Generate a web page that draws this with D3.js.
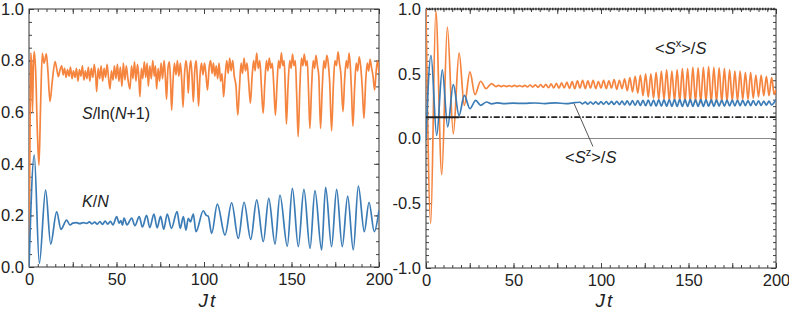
<!DOCTYPE html>
<html>
<head>
<meta charset="utf-8">
<script src="https://cdn.jsdelivr.net/npm/d3@7"></script>
<style>
body{margin:0;background:#fff}
svg text{font-family:"Liberation Sans",Arial,sans-serif;fill:#222}
</style>
</head>
<body>
<svg id="chart" width="789" height="311"></svg>
<script>
// values: [Jt, value]
var entropy=[[0,0],[0.5,0.45],[1.0,0.83],[1.5,0.78],[2.0,0.6],[2.5,0.78],[3.0,0.835],[3.8,0.76],[4.8,0.52],[5.7,0.395],[6.6,0.62],[7.6,0.828],[8.6,0.79],[9.9,0.826],[10.8,0.76],[12.0,0.641],[13.3,0.72],[14.9,0.796],[15.8,0.77],[16.8,0.738],[17.6,0.76],[18.7,0.78],[19.5,0.745],[20.3,0.77],
[21.2,0.735],[22.0,0.765],[22.9,0.74],[23.7,0.775],[24.6,0.73],[25.4,0.76],[26.3,0.735],[27.1,0.77],[28.0,0.72],[28.8,0.765],[29.7,0.74],[30.5,0.78],[31.4,0.725],[32.2,0.76],[33.1,0.73],[33.9,0.775],[34.8,0.72],[35.6,0.77],[36.5,0.735],[37.3,0.785],[38.2,0.73],[38.7,0.68],[39.5,0.77],[40.4,0.73],[41.2,0.78],[42.1,0.72],[42.9,0.77],[43.8,0.735],[44.6,0.785],[45.5,0.73],[46.3,0.69],[47.1,0.76],[48.0,0.725],[48.8,0.78],[49.7,0.73],
[50.5,0.785],[51.4,0.72],[52.2,0.775],[53.1,0.7],[53.9,0.79],[54.8,0.725],[55.6,0.78],[56.5,0.73],[57.7,0.69],[58.6,0.78],[59.4,0.73],[60.3,0.795],[61.1,0.72],[62.0,0.785],[62.7,0.74],[63.4,0.66],[64.2,0.77],[65.0,0.73],[65.9,0.795],[66.7,0.735],[67.5,0.79],[68.2,0.7],[69.0,0.78],[69.9,0.73],[70.7,0.8],[71.6,0.74],[72.3,0.78],[72.9,0.69],[73.8,0.77],[74.6,0.72],[75.5,0.79],[76.3,0.73],[77.2,0.8],[77.9,0.74],[78.6,0.65],[79.4,0.77],
[80.2,0.795],[80.9,0.72],[81.5,0.608],[82.3,0.72],[83.1,0.79],[84.0,0.745],[84.8,0.8],[85.6,0.74],[86.5,0.79],[87.3,0.72],[88.0,0.62],[88.8,0.74],[89.7,0.8],[90.5,0.75],[91.0,0.673],[91.7,0.76],[92.5,0.8],[93.3,0.72],[93.9,0.64],[94.7,0.76],[95.5,0.8],[96.1,0.74],[96.9,0.624],[97.7,0.74],[98.6,0.79],[99.4,0.745],
[100.3,0.79],[101.2,0.74],[102.0,0.686],[102.9,0.77],[103.8,0.8],[104.6,0.75],[105.4,0.79],[106.2,0.74],[107.0,0.78],[107.8,0.73],[108.6,0.79],[109.5,0.72],[110.3,0.75],[111.2,0.66],[112.1,0.74],[113.0,0.8],[113.8,0.75],[114.7,0.81],[115.5,0.76],[116.4,0.8],[117.3,0.74],[118.3,0.7],[119.3,0.589],[120.3,0.7],[121.2,0.79],[122.0,0.75],[122.9,0.81],[123.7,0.76],[124.6,0.79],[125.5,0.72],[126.5,0.635],[127.5,0.74],[128.4,0.8],[129.2,0.76],
[130.1,0.829],[131.0,0.77],[131.9,0.8],[132.8,0.7],[133.8,0.596],[134.8,0.72],[135.7,0.8],[136.5,0.76],[137.3,0.81],[138.2,0.77],[139.0,0.79],[139.9,0.7],[140.8,0.589],[141.8,0.72],[142.6,0.8],[143.4,0.77],[144.2,0.83],[145.0,0.78],[145.8,0.8],[146.4,0.7],[147.1,0.554],[148.0,0.7],[149.0,0.8],[149.8,0.77],
[150.6,0.825],[151.4,0.78],[152.2,0.8],[153.0,0.66],[153.8,0.505],[154.8,0.7],[155.7,0.81],[156.5,0.78],[157.3,0.825],[158.2,0.78],[159.0,0.8],[159.8,0.67],[160.5,0.537],[161.5,0.7],[162.4,0.8],[163.2,0.77],[164.0,0.82],[164.8,0.78],[165.6,0.74],[166.6,0.537],[167.6,0.7],[168.5,0.8],[169.3,0.77],[170.2,0.82],[171.0,0.79],[171.8,0.72],[172.9,0.528],[173.9,0.7],[174.8,0.8],[175.7,0.78],[176.6,0.834],[177.4,0.79],[178.2,0.75],[179.4,0.602],
[180.4,0.73],[181.3,0.8],[182.1,0.77],[182.9,0.829],[183.6,0.78],[184.3,0.68],[185.1,0.546],[186.1,0.7],[187.0,0.79],[187.8,0.76],[188.7,0.815],[189.5,0.78],[190.4,0.7],[191.4,0.576],[192.4,0.72],[193.3,0.79],[194.1,0.76],[194.9,0.805],[195.8,0.77],[196.6,0.74],[197.5,0.686],[198.4,0.76],[199.2,0.8],[200,0.75]];

var kinetic=[[0,0],[3.0,0.434],[5.9,0.014],[9.5,0.298],[12.4,0.089],[15.8,0.214],[18.3,0.146],[21.5,0.182],[23.4,0.163],[25,0.17],[27,0.172],[29,0.168],[31,0.172],[33,0.169],[34.5,0.175],[36,0.167],[37.5,0.174],[39,0.166],[40.5,0.176],[42,0.165],[43.5,0.178],[45,0.166],[46.5,0.177],[48,0.163],
[50.1,0.195],[51.5,0.17],[52.5,0.18],[53.4,0.162],[54.3,0.19],[56,0.163],[58.7,0.19],[60.5,0.16],[63,0.195],[64.8,0.155],[67.2,0.2],[69,0.153],[71.4,0.205],[73.2,0.152],[75.2,0.196],[77,0.146],[79,0.205],[81.4,0.15],[84.6,0.215],[86.4,0.15],[88.2,0.195],[89.7,0.143],[91,0.189],[92.2,0.175],[93.9,0.205],[95.4,0.137],[99.6,0.218],[101.3,0.2],[102.4,0.197],[104.4,0.13],
[107.6,0.244],[112,0.124],[115.8,0.249],[119.6,0.111],[122.9,0.251],[126.7,0.107],[130.1,0.26],[133.9,0.098],[137,0.266],[140.6,0.089],[143.4,0.279],[147.6,0.081],[150.5,0.305],[153.9,0.079],[157.1,0.301],[160.6,0.072],[163.4,0.296],[167.2,0.066],[169.5,0.309],[172.9,0.079],[175.8,0.301],[179,0.079],[182.1,0.275],[185.3,0.066],[188.2,0.314],[191.6,0.137],[194.3,0.251],[197.3,0.137],[200,0.22]];

var sx=[[0,1.0],[2.7,-0.656],[5.6,0.985],[9.0,-0.279],[12.2,0.86],[15.6,0.036],[18.9,0.661],[21.9,0.256],[25.1,0.514],[28.0,0.339],[31.2,0.442],[34.3,0.385],[37.5,0.424],
[40,0.4],[41.5,0.41],[43,0.401],[44.5,0.409],[46,0.401],[47.5,0.409],[49,0.4],[50.5,0.41],[52,0.401],[53.5,0.409],[55,0.4],[56.5,0.411],[58,0.398],[59.5,0.413],[61,0.397],[62.5,0.414],[64,0.396],[65.5,0.416],[67,0.394],[68.5,0.418],[70,0.392],[71.5,0.422],[73,0.39],[74.5,0.425],[76,0.388],[77.5,0.43],[79,0.39],[80.5,0.435],[82,0.387],[83.5,0.44],[85,0.385],[86.5,0.445],
[88,0.39],[89.5,0.45],[91,0.385],[92.5,0.445],[94,0.39],[95.5,0.45],[97,0.385],[98.5,0.44],[100,0.39],[101.5,0.45],[103,0.385],[104.5,0.445],[106,0.39],[107.5,0.455],[109,0.38],[110.5,0.45],[112,0.385],[113.5,0.46],[115,0.37],[116.5,0.47],[118,0.36],[119.5,0.48],[121,0.35],[122.5,0.49],[124,0.33],[125.5,0.5],[127,0.32],[128.5,0.5],
[130,0.31],[131.5,0.51],[133,0.3],[134.5,0.52],[136,0.3],[137.5,0.53],[139,0.29],[140.5,0.52],[142,0.29],[143.5,0.53],[145,0.285],[146.5,0.54],[148,0.28],[149.5,0.54],[151,0.28],[152.5,0.55],[154,0.28],[155.5,0.545],[157,0.275],[158.5,0.55],[160,0.28],[161.5,0.555],[163,0.275],[164.5,0.55],[166,0.28],[167.5,0.545],[169,0.28],[170.5,0.54],
[172,0.285],[173.5,0.53],[175,0.29],[176.5,0.52],[178,0.29],[179.5,0.52],[181,0.3],[182.5,0.51],[184,0.3],[185.5,0.51],[187,0.31],[188.5,0.49],[190,0.32],[191.5,0.49],[193,0.33],[194.5,0.48],[196,0.33],[197.5,0.47],[199,0.34],[200,0.38]];

var sz=[[0,0],[2.86,0.643],[6.1,0.023],[9.3,0.53],[12.4,0.09],[15.6,0.416],[18.9,0.178],[21.9,0.333],[25.1,0.23],[28.4,0.295],[31.2,0.256],[34.6,0.282],[37.6,0.268],[40.5,0.275],[44,0.27],[50,0.273],[56,0.271],[62,0.274],[68,0.27],[74,0.275],[80,0.269],[85,0.277],
[88,0.28],[89.5,0.268],[91,0.281],[92.5,0.266],[94,0.282],[95.5,0.266],[97,0.283],[98.5,0.265],[100,0.284],[101.5,0.265],[103,0.285],[104.5,0.264],[106,0.286],[107.5,0.263],[109,0.287],[110.5,0.262],[112,0.289],[113.5,0.26],[115,0.29],[116.5,0.258],[118,0.292],[119.5,0.256],[121,0.293],[122.5,0.255],[124,0.295],[125.5,0.253],[127,0.296],[128.5,0.252],
[130,0.297],[131.5,0.25],[133,0.298],[134.5,0.25],[136,0.298],[137.5,0.249],[139,0.299],[140.5,0.248],[142,0.3],[143.5,0.248],[145,0.3],[146.5,0.248],[148,0.3],[149.5,0.247],[151,0.3],[152.5,0.248],[154,0.299],[155.5,0.248],[157,0.3],[158.5,0.248],[160,0.299],[161.5,0.249],[163,0.298],[164.5,0.248],[166,0.298],[167.5,0.25],[169,0.297],[170.5,0.25],
[172,0.296],[173.5,0.251],[175,0.296],[176.5,0.252],[178,0.295],[179.5,0.253],[181,0.294],[182.5,0.254],[184,0.293],[185.5,0.254],[187,0.292],[188.5,0.255],[190,0.29],[191.5,0.256],[193,0.289],[194.5,0.258],[196,0.288],[197.5,0.26],[199,0.28],[200,0.3]];

var xTicks=[0,50,100,150,200];
var leftYTicks=[0,0.2,0.4,0.6,0.8,1.0];
var rightYTicks=[-1,-0.5,0,0.5,1];
var szRef=0.165, szRefSolidEnd=19;
var leader=[[84.6,0.27],[95.4,-0.062]];

var orange="#f5843f", blue="#3b7cb6";
var W=350;
var svg=d3.select("#chart");

function panel(id,left,top,h,yDom,yLabels,yStep){
    var g=svg.append("g").attr("transform","translate("+left+","+top+")");
    var x=d3.scaleLinear().domain([0,200]).range([0,W]);
    var y=d3.scaleLinear().domain(yDom).range([h,0]);
    g.append("clipPath").attr("id",id).append("rect").attr("width",W).attr("height",h);

    var xMinor=d3.range(0,201,5), xMajor=d3.range(0,201,25);
    var yMinor=d3.range(0,Math.round((yDom[1]-yDom[0])/yStep)+1).map(i=>yDom[0]+i*yStep);
    function ax(axis,tr){
        var a=g.append("g").attr("transform",tr).call(axis);
        a.select(".domain").remove();
        a.selectAll("line").attr("stroke","#444");
        return a;
    }
    ax(d3.axisBottom(x).tickValues(xMinor).tickSize(-3).tickFormat(""),"translate(0,"+h+")");
    ax(d3.axisBottom(x).tickValues(xMajor).tickSize(-5).tickFormat(""),"translate(0,"+h+")");
    ax(d3.axisTop(x).tickValues(xMinor).tickSize(-3).tickFormat(""),"translate(0,0)");
    ax(d3.axisTop(x).tickValues(xMajor).tickSize(-5).tickFormat(""),"translate(0,0)");
    ax(d3.axisLeft(y).tickValues(yMinor).tickSize(-3).tickFormat(""),"translate(0,0)");
    ax(d3.axisRight(y).tickValues(yMinor).tickSize(-3).tickFormat(""),"translate("+W+",0)");
    ax(d3.axisLeft(y).tickValues(yLabels).tickSize(-5).tickFormat(""),"translate(0,0)");
    ax(d3.axisRight(y).tickValues(yLabels).tickSize(-5).tickFormat(""),"translate("+W+",0)");

    ax(d3.axisBottom(x).tickValues(xTicks).tickSize(0).tickPadding(6).tickFormat(d3.format("d")),"translate(0,"+h+")");
    ax(d3.axisLeft(y).tickValues(yLabels).tickSize(0).tickPadding(5).tickFormat(d=>d.toFixed(1)),"translate(0,0)");
    g.selectAll(".tick text").attr("font-size",16.5).attr("fill","#222")
        .style("font-family","'Liberation Sans',Arial,sans-serif");

    g.append("rect").attr("width",W).attr("height",h)
        .attr("fill","none").attr("stroke","#333").attr("stroke-width",1);

    g.append("text").attr("x",W/2+4).attr("y",306.5-top).attr("text-anchor","middle")
        .attr("font-size",19).attr("font-style","italic").attr("letter-spacing",2).text("Jt");
    return {g:g,x:x,y:y,h:h};
}

function drawLine(p,id,data,color){
    var line=d3.line().x(d=>p.x(d[0])).y(d=>p.y(d[1])).curve(d3.curveMonotoneX);
    p.g.append("path").attr("d",line(data)).attr("clip-path","url(#"+id+")")
        .attr("fill","none").attr("stroke",color).attr("stroke-width",1.7).attr("stroke-linejoin","round");
}

// left panel
var L=panel("clipL",29,9,258,[0,1],leftYTicks,0.05);
drawLine(L,"clipL",entropy,orange);
drawLine(L,"clipL",kinetic,blue);
var t1=L.g.append("text").attr("x",53).attr("y",110).attr("font-size",16);
t1.append("tspan").attr("font-style","italic").text("S");
t1.append("tspan").text("/ln(");
t1.append("tspan").attr("font-style","italic").text("N");
t1.append("tspan").text("+1)");
var t2=L.g.append("text").attr("x",53).attr("y",198).attr("font-size",16);
t2.append("tspan").attr("font-style","italic").text("K");
t2.append("tspan").text("/");
t2.append("tspan").attr("font-style","italic").text("N");

// right panel
var R=panel("clipR",426,9,259,[-1,1],rightYTicks,0.05);
R.g.append("line").attr("x1",0).attr("x2",W).attr("y1",R.y(0)).attr("y2",R.y(0))
    .attr("stroke","#888").attr("stroke-width",1);
R.g.append("line").attr("x1",0).attr("x2",W).attr("y1",R.y(1)).attr("y2",R.y(1))
    .attr("stroke","#333").attr("stroke-width",2.5).attr("stroke-dasharray","1.5,1.3");
R.g.append("line").attr("x1",R.x(szRefSolidEnd)).attr("x2",W).attr("y1",R.y(szRef)).attr("y2",R.y(szRef))
    .attr("stroke","#222").attr("stroke-width",1.6).attr("stroke-dasharray","6,2,1.5,2");
drawLine(R,"clipR",sx,orange);
drawLine(R,"clipR",sz,blue);
R.g.append("line").attr("x1",R.x(0)).attr("x2",R.x(szRefSolidEnd)).attr("y1",R.y(szRef)).attr("y2",R.y(szRef))
    .attr("stroke","#222").attr("stroke-width",2);
R.g.append("line").attr("x1",R.x(leader[0][0])).attr("y1",R.y(leader[0][1]))
    .attr("x2",R.x(leader[1][0])).attr("y2",R.y(leader[1][1]))
    .attr("stroke","#444").attr("stroke-width",0.9);

function spinLabel(xp,yp,comp){
    var t=R.g.append("text").attr("x",xp).attr("y",yp).attr("font-size",16.5);
    t.append("tspan").text("<");
    t.append("tspan").attr("font-style","italic").text("S");
    t.append("tspan").attr("font-size",11).attr("dy",-7).text(comp);
    t.append("tspan").attr("dy",7).text(">/");
    t.append("tspan").attr("font-style","italic").text("S");
}
spinLabel(229,45,"x");
spinLabel(139,154,"z");
</script>
</body>
</html>
